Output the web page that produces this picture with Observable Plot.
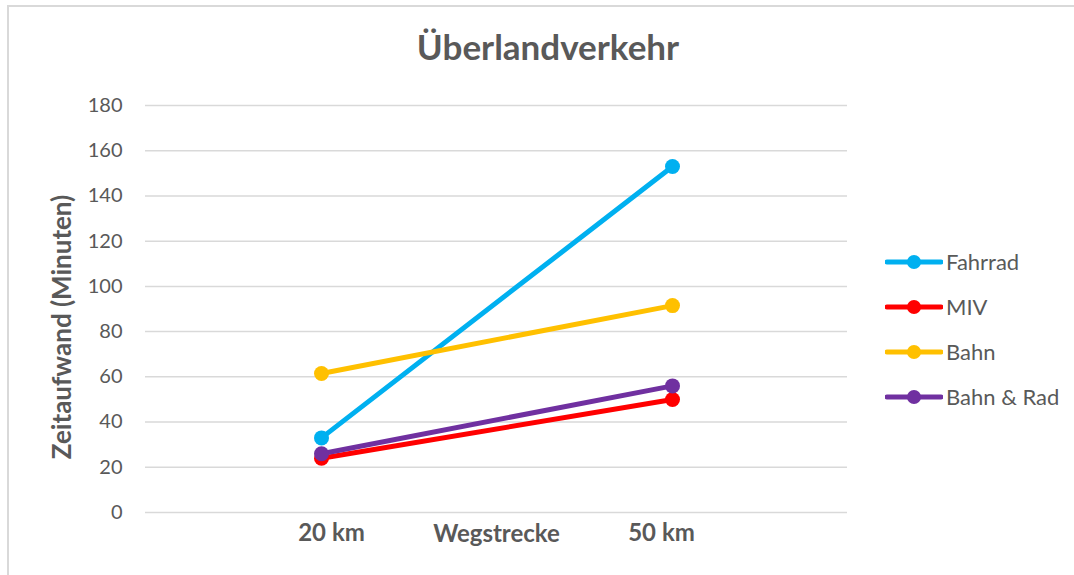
<!DOCTYPE html>
<html>
<head>
<meta charset="utf-8">
<script src="https://cdn.jsdelivr.net/npm/d3@7"></script>
<script src="https://cdn.jsdelivr.net/npm/@observablehq/plot@0.6"></script>
<style>
  html, body { margin: 0; padding: 0; background: #fff; }
  #wrap { position: relative; width: 1074px; height: 575px; overflow: hidden; font-family: Lato, "Open Sans", sans-serif; color: #595959; }
  #frame { position: absolute; left: 7px; top: 5px; width: 1080px; height: 600px; border-left: 2px solid #d9d9d9; border-top: 2px solid #d9d9d9; }
  #title { position: absolute; left: 0; width: 1096px; top: 25px; text-align: center; font-size: 35px; font-weight: bold; color: #595959; }
  #chart { position: absolute; left: 0; top: 0; }
  #legend { position: absolute; left: 885px; top: 239px; }
  .item { display: flex; align-items: center; height: 45px; margin-top: 0; }
  .item svg { display: block; }
  .item span { margin-left: 3px; font-size: 22px; color: #595959; line-height: 26px; }
</style>
</head>
<body>
<div id="wrap">
  <div id="frame"></div>
  <div id="title">Überlandverkehr</div>
  <div id="chart"></div>
  <div id="legend"></div>
</div>
<script>
const categories = ["20 km", "50 km"];
const seriesNames = ["Fahrrad", "MIV", "Bahn", "Bahn & Rad"];
const fahrrad = [33, 153];
const miv = [24, 50];
const bahn = [61.5, 91.5];
const bahnRad = [26, 56];
const colors = ["#00B0F0", "#FF0000", "#FFC000", "#7030A0"];
const yTicks = [0, 20, 40, 60, 80, 100, 120, 140, 160, 180];
const xTitle = "Wegstrecke";
const yTitle = "Zeitaufwand (Minuten)";

const seriesValues = [fahrrad, miv, bahn, bahnRad];
const rows = seriesNames.flatMap((s, i) =>
  categories.map((c, j) => ({series: s, cat: c, value: seriesValues[i][j]})));

const seriesMarks = seriesNames.flatMap((s, i) => {
  const d = rows.filter(r => r.series === s);
  return [
    Plot.line(d, {x: "cat", y: "value", stroke: colors[i], strokeWidth: 5, strokeLinecap: "round"}),
    Plot.dot(d, {x: "cat", y: "value", fill: colors[i], r: 7.5})
  ];
});

const chart = Plot.plot({
  width: 1074,
  height: 575,
  marginLeft: 145,
  marginRight: 227,
  marginTop: 105,
  marginBottom: 63,
  style: {fontFamily: "Lato, 'Open Sans', sans-serif", background: "transparent", color: "#595959"},
  x: {type: "point", domain: categories, padding: 0.5, axis: null},
  y: {domain: [0, 180], ticks: yTicks, axis: null},
  marks: [
    Plot.gridY(yTicks, {stroke: "#d9d9d9", strokeOpacity: 1, strokeWidth: 1.5}),
    Plot.axisY(yTicks, {tickSize: 0, tickPadding: 23, fontSize: 20, fill: "#595959", label: null}),
    Plot.axisX([categories[0]], {tickSize: 0, tickPadding: 11, fontSize: 24, fontWeight: "bold", fill: "#595959", dx: 10, label: null}),
    Plot.axisX([categories[1]], {tickSize: 0, tickPadding: 11, fontSize: 24, fontWeight: "bold", fill: "#595959", dx: -11, label: null}),
    Plot.text([xTitle], {frameAnchor: "bottom", dy: 22, fontSize: 24, fontWeight: "bold", fill: "#595959", lineAnchor: "middle"}),
    Plot.text([yTitle], {frameAnchor: "left", textAnchor: "middle", dx: -83, dy: 18, rotate: -90, fontSize: 26, fontWeight: "bold", fill: "#595959"}),
    ...seriesMarks
  ]
});
document.getElementById("chart").appendChild(chart);

const legend = document.getElementById("legend");
seriesNames.forEach((s, i) => {
  const item = document.createElement("div");
  item.className = "item";
  const ns = "http://www.w3.org/2000/svg";
  const sw = document.createElementNS(ns, "svg");
  sw.setAttribute("width", 58);
  sw.setAttribute("height", 20);
  const ln = document.createElementNS(ns, "line");
  ln.setAttribute("x1", 2); ln.setAttribute("x2", 56);
  ln.setAttribute("y1", 10); ln.setAttribute("y2", 10);
  ln.setAttribute("stroke", colors[i]); ln.setAttribute("stroke-width", 5);
  ln.setAttribute("stroke-linecap", "round");
  const c = document.createElementNS(ns, "circle");
  c.setAttribute("cx", 29); c.setAttribute("cy", 10); c.setAttribute("r", 7);
  c.setAttribute("fill", colors[i]);
  sw.appendChild(ln); sw.appendChild(c);
  const t = document.createElement("span");
  t.textContent = s;
  item.appendChild(sw); item.appendChild(t);
  legend.appendChild(item);
});
</script>
</body>
</html>
